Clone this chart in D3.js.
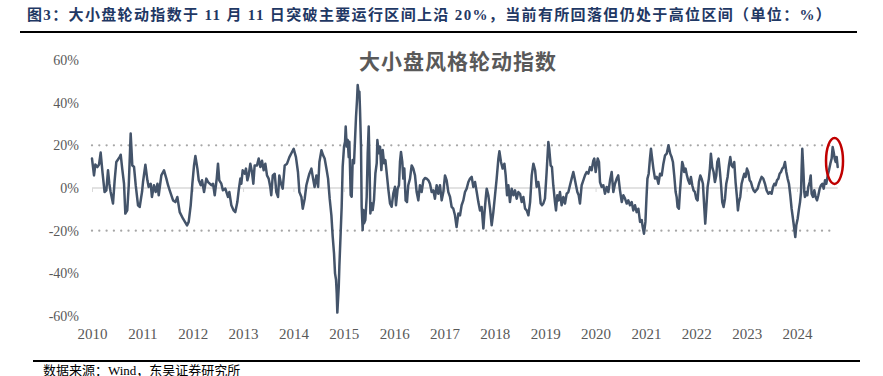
<!DOCTYPE html>
<html><head><meta charset="utf-8">
<script src="https://cdn.jsdelivr.net/npm/d3@7"></script>
<style>body{margin:0;background:#fff}svg{display:block}</style>
</head><body>
<svg id="chart" width="883" height="376"></svg>
<script>
const figTitle = "图3：大小盘轮动指数于 11 月 11 日突破主要运行区间上沿 20%，当前有所回落但仍处于高位区间（单位：%）";
const chartTitle = "大小盘风格轮动指数";
const sourceText = "数据来源：Wind，东吴证券研究所";
const yTicks = [-60, -40, -20, 0, 20, 40, 60];
const xYears = [2010,2011,2012,2013,2014,2015,2016,2017,2018,2019,2020,2021,2022,2023,2024];
const bandLevels = [20, -20];
const highlightPoint = [2024.745, 12.7];

const dates = [
2010.000,2010.040,2010.066,2010.106,2010.140,2010.172,2010.210,2010.250,2010.285,2010.318,
2010.344,2010.370,2010.417,2010.450,2010.483,2010.550,2010.570,2010.600,2010.636,2010.662,
2010.700,2010.730,2010.768,2010.800,2010.834,2010.868,2010.914,2010.947,2010.993,2011.013,
2011.060,2011.100,2011.126,2011.166,2011.190,2011.230,2011.265,2011.300,2011.325,2011.377,
2011.430,2011.477,2011.510,2011.543,2011.610,2011.656,2011.695,2011.742,2011.808,2011.887,
2011.920,2011.960,2011.993,2012.026,2012.053,2012.093,2012.120,2012.160,2012.185,2012.225,
2012.270,2012.305,2012.370,2012.404,2012.437,2012.477,
2012.502,2012.528,2012.568,2012.600,2012.648,2012.700,2012.727,2012.767,2012.813,2012.846,
2012.886,2012.913,2012.946,2012.966,2012.992,2013.032,2013.058,2013.085,2013.111,2013.144,
2013.177,2013.204,2013.230,2013.277,2013.310,2013.343,2013.376,2013.409,2013.442,2013.475,
2013.508,2013.540,2013.560,2013.590,2013.628,2013.660,2013.694,2013.720,2013.754,2013.787,
2013.827,2013.873,2013.920,2013.972,2014.005,2014.050,2014.090,2014.118,2014.158,2014.185,
2014.224,2014.257,2014.290,2014.317,2014.357,2014.390,2014.420,2014.456,2014.490,2014.516,
2014.556,2014.590,2014.620,2014.655,2014.688,2014.720,2014.754,
2014.780,2014.806,2014.826,2014.846,2014.860,2014.872,2014.900,2014.912,2014.940,2014.958,
2014.978,2015.005,2015.025,2015.038,2015.058,2015.078,2015.098,2015.111,2015.137,2015.157,
2015.177,2015.203,2015.223,2015.243,2015.263,2015.276,2015.296,2015.310,2015.322,2015.342,
2015.355,2015.375,2015.390,2015.402,2015.428,2015.455,2015.475,2015.495,2015.514,2015.528,
2015.548,2015.574,2015.600,2015.628,2015.654,2015.667,2015.693,2015.720,2015.746,2015.773,
2015.800,2015.826,2015.853,2015.886,2015.918,2015.950,2015.984,2016.017,
2016.036,2016.070,2016.096,2016.116,2016.136,2016.162,2016.182,2016.202,2016.228,2016.255,
2016.280,2016.315,2016.348,2016.380,2016.414,2016.447,2016.480,2016.513,2016.546,2016.580,
2016.613,2016.646,2016.680,2016.712,2016.745,2016.778,2016.810,2016.844,2016.877,2016.910,
2016.944,2016.977,2017.010,2017.043,2017.076,2017.110,2017.142,2017.175,2017.208,2017.240,
2017.275,2017.308,2017.340,2017.374,2017.407,2017.440,2017.474,2017.507,2017.540,2017.573,
2017.606,2017.640,2017.672,2017.705,2017.738,2017.772,2017.790,2017.818,2017.838,2017.870,
2017.904,2017.937,2017.970,2018.003,2018.036,2018.070,2018.090,2018.122,2018.155,2018.190,
2018.215,2018.242,2018.268,2018.300,2018.334,2018.368,2018.400,2018.434,2018.467,2018.500,
2018.533,2018.566,2018.600,2018.632,2018.666,2018.700,2018.732,2018.765,2018.800,
2018.830,2018.863,2018.883,2018.910,2018.936,2018.962,2018.995,2019.028,2019.062,2019.080,
2019.108,2019.134,2019.160,2019.194,2019.214,2019.240,2019.267,2019.293,2019.326,2019.360,
2019.393,2019.426,2019.460,2019.492,2019.525,2019.558,2019.585,2019.611,2019.638,2019.665,
2019.690,2019.724,2019.757,2019.790,2019.823,2019.856,2019.890,2019.922,2019.955,2019.975,
2020.002,2020.022,2020.042,2020.068,2020.088,2020.120,2020.154,2020.187,2020.220,2020.254,
2020.287,2020.320,2020.353,2020.386,2020.420,2020.450,2020.485,2020.520,2020.552,2020.585,
2020.618,2020.650,2020.684,2020.717,2020.750,2020.783,2020.816,2020.850,2020.883,2020.916,
2020.936,2020.962,2020.990,2021.010,2021.030,2021.055,2021.080,2021.100,2021.120,2021.148,
2021.180,2021.215,2021.248,2021.280,2021.314,2021.347,2021.380,2021.413,2021.447,
2021.463,2021.483,2021.510,2021.536,2021.562,2021.590,2021.610,2021.628,2021.655,2021.675,
2021.695,2021.720,2021.740,2021.760,2021.787,2021.814,2021.840,2021.867,2021.893,2021.920,
2021.946,2021.973,2022.000,2022.026,2022.052,2022.080,2022.105,2022.132,2022.158,2022.178,
2022.198,2022.225,2022.250,2022.270,2022.290,2022.317,2022.344,2022.370,2022.397,2022.417,
2022.443,2022.470,2022.490,2022.516,2022.542,2022.570,2022.595,2022.622,2022.648,2022.675,
2022.700,2022.728,2022.754,2022.780,2022.807,2022.827,2022.847,2022.873,2022.900,2022.926,
2022.953,2022.980,2023.006,2023.032,2023.060,2023.085,2023.112,2023.138,2023.165,2023.190,
2023.218,2023.245,2023.270,2023.297,2023.330,2023.364,2023.397,2023.430,2023.463,2023.496,
2023.523,2023.550,2023.575,2023.602,2023.630,2023.655,2023.682,2023.708,2023.735,2023.761,
2023.788,2023.814,2023.840,2023.867,2023.893,2023.920,2023.946,2023.966,2023.986,2024.013,
2024.040,2024.060,2024.080,2024.092,2024.105,2024.125,2024.145,2024.158,2024.185,2024.205,
2024.225,2024.252,2024.272,2024.290,2024.318,2024.344,2024.370,2024.397,2024.424,2024.450,
2024.477,2024.503,2024.530,2024.556,2024.582,2024.610,2024.635,2024.662,2024.688,2024.708,
2024.728,2024.748,2024.768,2024.788,2024.808
];

const values = [
13.8,5.9,11.0,9.8,11.0,16.6,7.0,-1.9,-1.1,8.3,
2.0,-1.9,-7.3,3.6,12.2,14.5,15.6,9.1,2.0,-12.0,
-10.5,1.3,25.5,10.6,10.0,1.3,-8.1,-8.9,-1.9,2.8,
10.9,3.6,0.5,2.0,-4.2,1.3,-1.9,2.0,-3.4,5.9,
8.3,4.4,1.3,-1.1,-5.8,-6.6,-4.2,-11.3,-14.4,-17.5,
-15.9,-8.1,2.0,10.6,15.0,9.1,3.6,1.3,3.6,-1.9,
4.4,2.8,1.3,2.0,-3.4,4.4,
11.4,3.6,2.0,-1.1,-0.3,-4.2,-1.9,-8.1,-10.5,-11.3,
-6.6,-1.1,4.4,2.0,8.3,6.7,9.1,3.6,5.9,11.4,
7.5,2.0,10.6,10.6,13.8,9.8,12.8,8.3,11.4,5.9,
4.4,0.5,-3.4,5.9,6.7,-1.9,-4.2,5.9,2.0,-0.3,
10.6,11.4,14.5,16.9,18.4,14.5,7.5,-1.9,-4.2,-9.7,
-5.0,1.3,4.4,6.7,9.1,4.4,0.5,5.9,0.5,12.2,
17.7,15.3,13.8,9.1,4.4,-5.0,-12.8,
-22.8,-30.6,-40.0,-43.0,-49.4,-58.4,-46.3,-36.9,-19.7,-8.8,
10.0,19.4,21.7,28.8,19.4,22.5,14.5,21.7,-3.3,-4.1,
13.1,11.6,22.5,33.4,41.3,48.3,44.4,45.2,36.9,19.4,
-8.8,-19.7,-10.3,-16.6,-15.0,-4.1,16.3,28.8,6.9,-11.9,
-7.2,-10.3,-5.6,6.9,11.6,22.5,16.3,19.4,8.4,17.8,
11.6,13.1,6.9,-0.9,-7.2,-8.8,-2.5,0.6,
-8.1,-0.3,1.3,12.2,16.9,12.2,4.4,9.1,-5.8,-6.6,
1.3,4.4,10.6,9.1,5.9,-1.9,-5.8,1.3,-1.9,3.6,
4.7,4.4,3.6,2.0,-1.9,-1.1,-5.0,1.3,-2.7,1.3,
-5.8,-1.9,5.9,3.6,-1.9,-4.2,-8.9,-9.7,-12.8,-18.3,
-12.0,-12.8,-8.1,-5.8,-1.9,-0.3,2.8,4.4,5.2,0.5,
2.8,-1.9,-6.6,-10.5,-8.9,-19.0,-12.8,-5.0,-0.3,-3.4,
-9.7,-17.5,-11.3,-3.4,4.4,13.8,17.2,12.2,9.1,11.4,
5.9,-3.4,1.3,-6.6,-0.3,-3.4,-1.1,-5.0,-1.9,-2.7,
-6.6,-4.2,-9.7,-10.5,-12.8,-6.6,5.9,11.4,8.3,
0.5,2.8,-0.3,-7.3,-8.1,-7.3,-5.0,7.5,21.6,18.4,
10.6,9.8,1.3,-6.6,-10.5,-3.4,-5.8,-1.9,-8.1,-4.2,
-7.3,-2.7,-1.9,1.3,4.4,7.5,4.4,1.3,-1.9,-3.4,
-7.3,1.3,3.6,5.9,7.5,6.7,9.8,8.3,12.8,13.8,
7.5,10.6,13.8,12.2,2.8,0.5,1.3,-2.7,0.5,-1.9,
3.6,7.5,-1.9,2.0,4.4,5.9,-1.1,-6.6,-3.4,-5.0,
-7.3,-5.8,-8.1,-6.6,-10.5,-8.1,-11.3,-9.7,-15.9,-15.0,
-18.3,-21.4,-15.9,-5.0,4.4,6.7,13.8,18.4,14.5,9.1,
4.4,5.2,2.0,6.7,5.9,11.4,15.3,16.1,20.0,
18.4,16.1,14.5,12.2,5.9,-1.9,-4.2,-8.9,-9.7,-1.9,
4.4,12.2,10.6,7.5,9.1,5.9,3.6,2.0,5.2,1.3,
-1.1,-1.9,-5.0,-5.8,2.8,5.9,4.4,2.0,-8.9,-16.7,
-9.7,0.5,4.4,9.1,16.1,9.8,7.5,2.8,5.9,12.2,
13.8,7.5,2.0,-6.6,-8.9,-5.0,2.0,5.2,10.6,14.5,
10.6,9.8,12.2,2.8,-4.2,-10.5,-6.6,-4.2,2.0,4.4,
6.7,5.2,9.1,7.5,3.6,2.8,0.5,-1.1,-1.9,-1.1,
-0.3,2.0,3.6,5.2,4.4,2.0,-1.1,-2.7,-1.9,-2.7,
0.5,2.0,1.3,3.6,4.4,6.7,7.5,9.1,9.8,12.2,
7.5,4.4,2.0,-3.4,-9.7,-14.4,-19.1,-23.0,-17.5,-14.4,
-9.7,-6.6,-1.9,9.1,18.4,9.1,-1.9,-4.2,-1.9,-3.4,
0.5,2.8,5.9,-2.7,-4.2,-1.1,-4.2,-5.8,-3.4,-0.3,
1.3,2.0,-0.3,3.6,2.0,5.9,8.3,11.4,13.8,19.2,
16.9,13.8,12.2,14.5,9.8
];

if (dates.length !== values.length) console.error("length mismatch", dates.length, values.length);

const svg = d3.select("#chart");
const serif = "'Liberation Serif','Times New Roman','Noto Sans CJK SC',serif";
const cjk = "'Liberation Serif','Noto Sans CJK SC',sans-serif";

const x = d3.scaleLinear().domain([2010, 2024]).range([92, 797]);
const y = d3.scaleLinear().domain([-60, 60]).range([316, 60]);
const tEnd = dates[dates.length - 1];

// Figure title, stretched to the reference width
const tt = svg.append("text")
  .attr("x", 27).attr("y", 20)
  .attr("font-family", cjk).attr("font-weight", "bold")
  .attr("font-size", 15).attr("fill", "#1F3864")
  .text(figTitle);
const len = tt.node().getComputedTextLength();
const nChars = figTitle.length;
if (len > 0 && len < 805) tt.attr("letter-spacing", ((805 - len) / nChars).toFixed(2));

// rules
svg.append("line").attr("x1", 20).attr("x2", 857).attr("y1", 32).attr("y2", 32)
  .attr("stroke", "#000").attr("stroke-width", 2);
svg.append("line").attr("x1", 33).attr("x2", 860).attr("y1", 361).attr("y2", 361)
  .attr("stroke", "#000").attr("stroke-width", 2);

// source
svg.append("text").attr("x", 43).attr("y", 374.5)
  .attr("font-family", cjk).attr("font-size", 13).attr("fill", "#000")
  .text(sourceText);

// chart title
svg.append("text").attr("x", 458).attr("y", 69).attr("text-anchor", "middle")
  .attr("font-family", "'Noto Sans CJK SC',sans-serif").attr("font-weight", 700)
  .attr("font-size", 21).attr("fill", "#595959").attr("letter-spacing", 1)
  .text(chartTitle);

// zero line
svg.append("line").attr("x1", x(2010)).attr("x2", x(tEnd))
  .attr("y1", y(0)).attr("y2", y(0))
  .attr("stroke", "#D9D9D9").attr("stroke-width", 1.5);
const zeroAxis = svg.append("g").attr("transform", `translate(0,${y(0)})`)
  .call(d3.axisBottom(x).tickValues(xYears).tickSize(4).tickFormat(""));
zeroAxis.select(".domain").remove();
zeroAxis.selectAll("line").attr("stroke", "#D9D9D9").attr("stroke-width", 1);

// dotted band lines
svg.selectAll("line.band").data(bandLevels).enter().append("line")
  .attr("class", "band")
  .attr("x1", x(2010)).attr("x2", x(tEnd) - 4)
  .attr("y1", d => y(d)).attr("y2", d => y(d))
  .attr("stroke", "#A6A6A6").attr("stroke-width", 2.3)
  .attr("stroke-linecap", "round").attr("stroke-dasharray", "0 7.3");

// y axis
const ya = svg.append("g").attr("transform", "translate(82,0)")
  .call(d3.axisLeft(y).tickValues(yTicks).tickSize(0).tickPadding(3).tickFormat(d => d + "%"));
ya.select(".domain").remove();
ya.selectAll("text").attr("font-family", serif).attr("font-size", 14).attr("fill", "#595959");

// x axis
const xa = svg.append("g").attr("transform", "translate(0,324)")
  .call(d3.axisBottom(x).tickValues(xYears).tickSize(0).tickPadding(4).tickFormat(d3.format("d")));
xa.select(".domain").remove();
xa.selectAll("text").attr("font-family", serif).attr("font-size", 15).attr("fill", "#595959");

// data line
const line = d3.line().x(i => x(dates[i])).y(i => y(values[i]));
svg.append("path").datum(d3.range(dates.length))
  .attr("d", line).attr("fill", "none")
  .attr("stroke", "#44546A").attr("stroke-width", 2.5)
  .attr("stroke-linejoin", "round").attr("stroke-linecap", "round");

// highlight ellipse
svg.append("ellipse")
  .attr("cx", x(highlightPoint[0])).attr("cy", y(highlightPoint[1]))
  .attr("rx", 8.5).attr("ry", 23)
  .attr("fill", "none").attr("stroke", "#C00000").attr("stroke-width", 2.5);
</script>
</body></html>
